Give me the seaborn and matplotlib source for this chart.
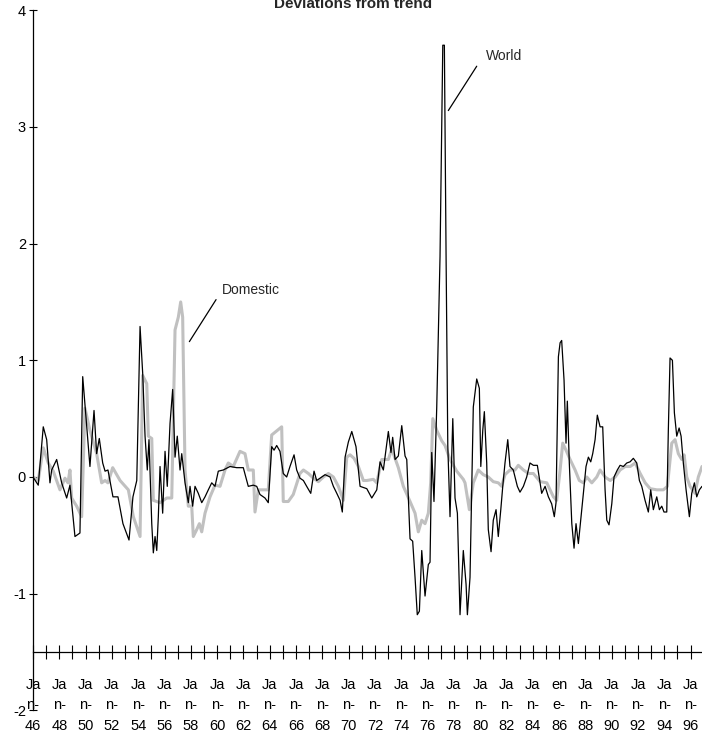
import numpy as np
import pandas as pd
import seaborn as sns
import matplotlib.pyplot as plt
from matplotlib.ticker import FixedLocator

sns.set_style("white")
plt.rcParams['font.family'] = ['Liberation Sans Narrow', 'Liberation Sans', 'DejaVu Sans']

# World series (decimal year, deviation)
world_year = [
    1946.0, 1946.4, 1946.78, 1947.04, 1947.29, 1947.42, 1947.8, 1948.18, 1948.56, 1948.81,
    1949.19, 1949.57, 1949.78, 1950.33, 1950.64, 1950.84, 1951.04, 1951.3, 1951.48, 1951.7,
    1952.08, 1952.46, 1952.84, 1953.3, 1953.6, 1953.89, 1954.14, 1954.34, 1954.52, 1954.69,
    1954.82, 1955.03, 1955.15, 1955.28, 1955.41, 1955.53, 1955.66, 1955.86, 1956.04, 1956.21,
    1956.42, 1956.62, 1956.8, 1956.97, 1957.18, 1957.31, 1957.56, 1957.81, 1957.94, 1958.14,
    1958.32, 1958.57, 1958.83, 1959.08, 1959.33, 1959.59, 1959.84, 1960.09, 1960.47, 1960.98,
    1961.49, 1961.99, 1962.37, 1962.75, 1963.01, 1963.26, 1963.64, 1963.89, 1964.15, 1964.33,
    1964.53, 1964.78, 1965.03, 1965.29, 1965.54, 1965.85, 1966.05, 1966.3, 1966.56, 1966.81,
    1967.12, 1967.37, 1967.57, 1967.83, 1968.21, 1968.59, 1968.84, 1969.1, 1969.35, 1969.52,
    1969.73, 1969.98, 1970.24, 1970.56, 1970.87, 1971.38, 1971.76, 1972.14, 1972.39, 1972.64,
    1973.02, 1973.22, 1973.35, 1973.53, 1973.78, 1974.04, 1974.29, 1974.42, 1974.67, 1974.87,
    1975.05, 1975.22, 1975.38, 1975.56, 1975.81, 1976.06, 1976.19, 1976.32, 1976.49, 1976.7,
    1976.95, 1977.16, 1977.28, 1977.41, 1977.54, 1977.71, 1977.92, 1978.09, 1978.27, 1978.47,
    1978.72, 1978.93, 1979.03, 1979.23, 1979.48, 1979.74, 1979.94, 1980.05, 1980.2, 1980.32,
    1980.5, 1980.62, 1980.83, 1981.0, 1981.21, 1981.38, 1981.57, 1981.72, 1981.89, 1982.1,
    1982.27, 1982.52, 1982.83, 1983.03, 1983.29, 1983.54, 1983.79, 1984.05, 1984.35, 1984.68,
    1984.94, 1985.19, 1985.44, 1985.64, 1985.77, 1985.95, 1986.08, 1986.2, 1986.38, 1986.53,
    1986.63, 1986.78, 1986.97, 1987.14, 1987.29, 1987.47, 1987.65, 1987.85, 1988.05, 1988.23,
    1988.41, 1988.56, 1988.74, 1988.91, 1989.12, 1989.32, 1989.5, 1989.63, 1989.8, 1990.01,
    1990.18, 1990.43, 1990.64, 1990.89, 1991.15, 1991.4, 1991.65, 1991.91, 1992.11, 1992.29,
    1992.54, 1992.79, 1992.97, 1993.17, 1993.43, 1993.63, 1993.81, 1993.98, 1994.19, 1994.31,
    1994.44, 1994.62, 1994.77, 1994.95, 1995.13, 1995.28, 1995.45, 1995.66, 1995.91, 1996.09,
    1996.29, 1996.47, 1996.67, 1996.87,
]
world_value = [
    0.0, -0.07, 0.43, 0.32, -0.05, 0.06, 0.15, -0.05, -0.18, -0.07,
    -0.51, -0.48, 0.86, 0.09, 0.57, 0.2, 0.33, 0.12, 0.05, 0.06,
    -0.17, -0.17, -0.4, -0.54, -0.17, -0.03, 1.29, 0.89, 0.35, 0.06,
    0.32, -0.4, -0.65, -0.51, -0.63, -0.34, 0.09, -0.31, 0.22, -0.08,
    0.46, 0.75, 0.17, 0.35, 0.06, 0.2, -0.05, -0.22, -0.08, -0.25,
    -0.08, -0.14, -0.22, -0.17, -0.11, -0.05, -0.08, 0.05, 0.06, 0.09,
    0.08, 0.08, -0.08, -0.07, -0.08, -0.15, -0.18, -0.22, 0.26, 0.23,
    0.27, 0.22, 0.03, 0.0, 0.09, 0.19, 0.06, -0.01, -0.03, -0.08,
    -0.14, 0.05, -0.03, -0.01, 0.02, 0.0, -0.08, -0.14, -0.2, -0.3,
    0.17, 0.3, 0.39, 0.26, -0.08, -0.1, -0.18, -0.11, 0.13, 0.06,
    0.39, 0.21, 0.34, 0.15, 0.18, 0.44, 0.18, 0.15, -0.53, -0.55,
    -0.86, -1.18, -1.15, -0.63, -1.02, -0.75, -0.73, 0.21, -0.21, 0.6,
    1.89, 3.7, 3.7, 1.89, 0.27, -0.34, 0.5, -0.18, -0.31, -1.18,
    -0.63, -0.92, -1.18, -0.86, 0.6, 0.84, 0.76, 0.09, 0.4, 0.56,
    0.12, -0.45, -0.64, -0.37, -0.28, -0.51, -0.28, -0.08, 0.12, 0.32,
    0.09, 0.06, -0.08, -0.13, -0.08, 0.0, 0.12, 0.1, 0.1, -0.14,
    -0.08, -0.17, -0.23, -0.34, -0.22, 1.03, 1.15, 1.17, 0.83, 0.29,
    0.65, 0.12, -0.4, -0.61, -0.4, -0.57, -0.37, -0.14, 0.09, 0.17,
    0.13, 0.2, 0.32, 0.53, 0.43, 0.43, -0.11, -0.37, -0.41, -0.23,
    0.0, 0.06, 0.1, 0.09, 0.12, 0.13, 0.16, 0.12, -0.03, -0.08,
    -0.2, -0.3, -0.11, -0.28, -0.17, -0.28, -0.25, -0.3, -0.3, 0.4,
    1.02, 1.0, 0.55, 0.35, 0.42, 0.35, 0.12, -0.11, -0.34, -0.14,
    -0.05, -0.17, -0.11, -0.08,
]

# Domestic series (decimal year, deviation)
domestic_year = [
    1946.0, 1946.4, 1946.78, 1947.16, 1947.54, 1948.05, 1948.43, 1948.66, 1948.81, 1948.94,
    1949.32, 1949.7, 1949.95, 1950.33, 1950.84, 1951.22, 1951.48, 1951.7, 1952.06, 1952.62,
    1953.25, 1953.63, 1954.14, 1954.34, 1954.65, 1954.77, 1955.03, 1955.15, 1955.66, 1956.17,
    1956.55, 1956.8, 1957.05, 1957.23, 1957.38, 1957.56, 1957.81, 1958.07, 1958.19, 1958.45,
    1958.65, 1958.83, 1959.08, 1959.46, 1959.84, 1960.22, 1960.6, 1960.85, 1961.23, 1961.74,
    1962.12, 1962.37, 1962.75, 1962.88, 1963.13, 1963.89, 1964.15, 1964.91, 1965.03, 1965.41,
    1965.79, 1966.3, 1966.56, 1966.94, 1967.32, 1967.7, 1968.08, 1968.46, 1968.84, 1969.22,
    1969.6, 1969.86, 1970.11, 1970.41, 1970.74, 1971.12, 1971.38, 1971.88, 1972.14, 1972.52,
    1973.02, 1973.28, 1973.78, 1974.16, 1974.67, 1975.05, 1975.3, 1975.56, 1975.81, 1976.06,
    1976.24, 1976.4, 1976.7, 1977.08, 1977.33, 1977.71, 1978.22, 1978.72, 1978.85, 1979.18,
    1979.48, 1979.86, 1980.24, 1980.62, 1981.0, 1981.38, 1981.64, 1981.89, 1982.27, 1982.65,
    1982.9, 1983.29, 1983.67, 1984.05, 1984.56, 1985.07, 1985.57, 1985.82, 1986.08, 1986.28,
    1986.53, 1986.84, 1987.22, 1987.54, 1987.85, 1988.11, 1988.49, 1988.87, 1989.12, 1989.5,
    1989.89, 1990.27, 1990.64, 1991.03, 1991.41, 1991.79, 1992.17, 1992.55, 1992.93, 1993.43,
    1993.93, 1994.24, 1994.57, 1994.82, 1995.07, 1995.33, 1995.51, 1995.71, 1995.96, 1996.34,
    1996.59, 1996.87,
]
domestic_value = [
    0.0, -0.03, 0.25, 0.12, 0.05, -0.11, -0.01, -0.05, 0.06, -0.18,
    -0.25, -0.34, 0.59, 0.4, 0.2, -0.05, -0.03, -0.05, 0.08, -0.03,
    -0.11, -0.34, -0.51, 0.87, 0.8, 0.35, 0.33, -0.2, -0.22, -0.18,
    -0.18, 1.26, 1.37, 1.5, 1.37, 0.06, -0.25, -0.25, -0.51, -0.45,
    -0.4, -0.47, -0.31, -0.17, -0.07, -0.08, 0.06, 0.12, 0.09, 0.22,
    0.2, 0.06, 0.06, -0.3, -0.11, -0.11, 0.36, 0.43, -0.21, -0.21,
    -0.15, 0.03, 0.06, 0.03, -0.01, -0.04, 0.0, 0.03, 0.0, -0.08,
    -0.2, 0.17, 0.19, 0.16, 0.09, -0.03, -0.03, -0.02, -0.05, 0.15,
    0.15, 0.24, 0.08, -0.08, -0.21, -0.31, -0.47, -0.37, -0.4, -0.31,
    -0.05, 0.5, 0.4, 0.31, 0.27, 0.15, 0.05, -0.02, -0.05, -0.28,
    -0.05, 0.06, 0.02, 0.0, -0.04, -0.05, -0.08, 0.02, 0.06, 0.06,
    0.1, 0.06, 0.03, 0.03, -0.04, -0.05, -0.17, -0.2, 0.06, 0.29,
    0.23, 0.15, 0.06, -0.03, -0.05, 0.0, -0.05, 0.0, 0.06, 0.0,
    -0.03, 0.0, 0.06, 0.09, 0.09, 0.12, 0.03, -0.05, -0.1, -0.11,
    -0.11, -0.08, 0.29, 0.32, 0.2, 0.15, 0.19, 0.0, -0.08, -0.14,
    0.0, 0.09,
]

label_years = list(range(1946, 1997, 2))
label_text = ["en\ne-\n86" if y == 1986 else "Ja\nn-\n%02d" % (y % 100) for y in label_years]
y_ticks = [-2, -1, 0, 1, 2, 3, 4]

world = pd.DataFrame({"year": world_year, "value": world_value})
domestic = pd.DataFrame({"year": domestic_year, "value": domestic_value})

fig = plt.figure(figsize=(7.02, 7.47), dpi=100)
ax = fig.add_axes([33 / 702, 1 - 710.4 / 747, 669 / 702, 700.2 / 747])

sns.lineplot(data=domestic, x="year", y="value", ax=ax, color="#C0C0C0", linewidth=2.2,
             estimator=None, sort=False, zorder=2)
sns.lineplot(data=world, x="year", y="value", ax=ax, color="black", linewidth=0.9,
             estimator=None, sort=False, zorder=3)

ax.set_xlim(1946, 1996.87)
ax.set_ylim(-2, 4)
ax.set_xlabel("")
ax.set_ylabel("")

# axis styling: left spine full height, horizontal axis crossing at -1.5
ax.spines["top"].set_visible(False)
ax.spines["right"].set_visible(False)
ax.spines["bottom"].set_position(("data", -1.5))
for s in ("left", "bottom"):
    ax.spines[s].set_color("black")
    ax.spines[s].set_linewidth(0.9)

ax.set_yticks(y_ticks)
ax.set_yticklabels([str(v) for v in y_ticks], fontsize=10.5)
ax.tick_params(axis="y", left=True, direction="inout", length=6, width=0.8, pad=2, colors="black")

ax.set_xticks(label_years)
ax.set_xticklabels(label_text, fontsize=10.5, linespacing=1.55)
ax.xaxis.set_minor_locator(FixedLocator(list(range(1947, 1997, 2))))
ax.tick_params(axis="x", which="both", bottom=True, direction="inout", length=10, width=0.8,
               colors="black")
ax.tick_params(axis="x", which="major", pad=14)

ax.plot([1977.58, 1979.74], [3.14, 3.52], color="black", linewidth=0.9)
ax.text(1980.45, 3.61, "World", fontsize=10, va="center", ha="left")
ax.plot([1957.89, 1959.92], [1.16, 1.52], color="black", linewidth=0.9)
ax.text(1960.35, 1.6, "Domestic", fontsize=10, va="center", ha="left")

fig.text(0.503, 1 - 8 / 747, "Deviations from trend", fontsize=11, fontweight="bold",
         ha="center", va="baseline")

fig.savefig("out.png", dpi=100)
